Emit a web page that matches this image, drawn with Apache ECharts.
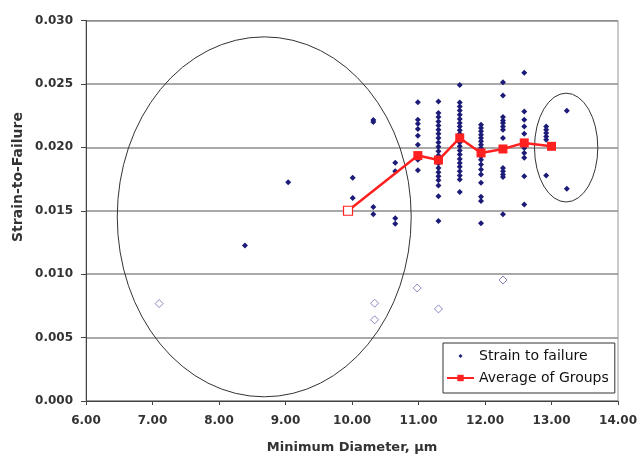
<!DOCTYPE html>
<html>
<head>
<meta charset="utf-8">
<script src="https://cdn.jsdelivr.net/npm/echarts@6/dist/echarts.min.js"></script>
<style>
  html, body { margin: 0; padding: 0; background: #fff; }
  #chart { width: 640px; height: 459px; }
</style>
</head>
<body>
<div id="chart"></div>
<script>
// measured specimens, grouped by diameter column
const columnDiameters = [8.39, 9.04, 10.01, 10.32, 10.65, 10.99, 11.30, 11.62, 11.94, 12.27, 12.59, 12.92, 13.23];
const columnStrains = [
  [0.01226],
  [0.01725],
  [0.0176, 0.0160],
  [0.02215, 0.02200, 0.01529, 0.01472],
  [0.01878, 0.01812, 0.0144, 0.01397],
  [0.02356, 0.02217, 0.02186, 0.02144, 0.02092, 0.02021, 0.01937, 0.01903, 0.0182],
  [0.02361, 0.0227, 0.02239, 0.02204, 0.02173, 0.02139, 0.02108, 0.02074, 0.02039, 0.02004, 0.01969,
   0.01935, 0.01903, 0.01872, 0.01838, 0.01804, 0.01772, 0.01741, 0.01699, 0.01615, 0.01419],
  [0.02492, 0.02353, 0.02322, 0.0229, 0.02257, 0.02223, 0.02192, 0.02165, 0.02134, 0.02107, 0.02074,
   0.02039, 0.02008, 0.01976, 0.01943, 0.01909, 0.01877, 0.01846, 0.01811, 0.01777, 0.01747, 0.01647],
  [0.02178, 0.02152, 0.02126, 0.021, 0.02074, 0.02047, 0.02021, 0.01995, 0.01969, 0.01929, 0.01903,
   0.01864, 0.01825, 0.01786, 0.01721, 0.01611, 0.01576, 0.01401],
  [0.02513, 0.02408, 0.02239, 0.02212, 0.02192, 0.02165, 0.02139, 0.02074, 0.01987, 0.01838, 0.01812,
   0.01786, 0.01766, 0.01472],
  [0.02589, 0.02283, 0.02217, 0.02165, 0.02108, 0.02039, 0.01995, 0.01956, 0.01917, 0.01772, 0.0155],
  [0.02165, 0.02139, 0.02113, 0.02086, 0.0206, 0.01778],
  [0.02288, 0.01673]
];

// low outliers (open diamonds)
const outlierDiameter = [7.10, 10.34, 10.34, 10.98, 11.30, 12.27];
const outlierStrain = [0.00768, 0.00771, 0.0064, 0.00891, 0.00726, 0.00954];

// group averages
const avgDiameter = [9.94, 10.99, 11.30, 11.62, 11.94, 12.27, 12.59, 13.00];
const avgStrain = [0.0150, 0.01935, 0.0190, 0.02074, 0.01956, 0.01987, 0.02035, 0.02008];

// hand-drawn ellipses: centre and radii in data units
const ellipseCenter = [[8.68, 0.01452], [13.22, 0.01998]];
const ellipseRadius = [[2.21, 0.01419], [0.476, 0.00429]];

const xTicks = [6, 7, 8, 9, 10, 11, 12, 13, 14];

const scatterData = [];
columnDiameters.forEach((d, i) => {
  columnStrains[i].forEach((s) => scatterData.push([d, s]));
});
const outlierData = outlierDiameter.map((d, i) => [d, outlierStrain[i]]);
const avgData = avgDiameter.map((d, i) => {
  if (i === 0) {
    return {
      value: [d, avgStrain[i]],
      itemStyle: { color: '#fff', borderColor: '#ff2020', borderWidth: 1.2 }
    };
  }
  return [d, avgStrain[i]];
});
const ellipseData = ellipseCenter.map((c, i) => [c[0], c[1], ellipseRadius[i][0], ellipseRadius[i][1]]);

const labelFont = {
  fontFamily: 'DejaVu Sans',
  fontWeight: 'bold',
  fontSize: 12,
  color: '#333'
};

// small diamond in the middle of a 27x8 box (the moves stretch the bounds)
const smallDiamond = 'path://M0,0 M27,8 M13.5,2 L15.5,4 L13.5,6 L11.5,4 Z';

const chart = echarts.init(document.getElementById('chart'), null, { renderer: 'canvas' });

const option = {
  animation: false,
  backgroundColor: '#fff',
  grid: {
    left: 86,
    right: 21,
    top: 20.5,
    bottom: 56.5,
    show: true,
    borderColor: '#999',
    borderWidth: 1
  },
  xAxis: {
    type: 'value',
    min: xTicks[0],
    max: xTicks[xTicks.length - 1],
    interval: 1,
    name: 'Minimum Diameter, µm',
    nameLocation: 'middle',
    nameGap: 40,
    nameTextStyle: {
      fontFamily: 'DejaVu Sans',
      fontWeight: 'bold',
      fontSize: 13,
      color: '#333'
    },
    axisLine: { lineStyle: { color: '#444', width: 1 } },
    axisTick: { show: true, length: 4, lineStyle: { color: '#444' } },
    axisLabel: Object.assign({ margin: 14, formatter: (v) => v.toFixed(2) }, labelFont),
    splitLine: { show: false }
  },
  yAxis: {
    type: 'value',
    min: 0,
    max: 0.03,
    interval: 0.005,
    axisLine: { show: true, lineStyle: { color: '#444', width: 1 } },
    axisTick: { show: true, length: 5, lineStyle: { color: '#444' } },
    axisLabel: Object.assign({ margin: 13, formatter: (v) => v.toFixed(3) }, labelFont),
    splitLine: { show: true, lineStyle: { color: '#8c8c8c', width: 1.5 } }
  },
  graphic: [{
    type: 'text',
    x: 18,
    y: 177,
    rotation: Math.PI / 2,
    style: {
      text: 'Strain-to-Failure',
      fontFamily: 'DejaVu Sans',
      fontWeight: 'bold',
      fontSize: 14,
      fill: '#333',
      align: 'center',
      verticalAlign: 'middle'
    }
  }],
  legend: {
    orient: 'vertical',
    left: 443,
    top: 343,
    padding: [6, 6, 8, 3],
    itemGap: 8,
    itemWidth: 27,
    itemHeight: 8,
    backgroundColor: '#fff',
    borderColor: '#333',
    borderWidth: 1,
    data: [
      { name: 'Strain to failure', icon: smallDiamond },
      { name: 'Average of Groups' }
    ],
    textStyle: { fontFamily: 'DejaVu Sans', fontSize: 14, color: '#111' }
  },
  series: [
    {
      type: 'custom',
      name: 'ellipses',
      silent: true,
      z: 1,
      data: ellipseData,
      encode: { x: 0, y: 1 },
      renderItem: (params, api) => {
        const c = api.coord([api.value(0), api.value(1)]);
        const s = api.size([api.value(2), api.value(3)]);
        const rx = s[0], ry = s[1];
        const p = 'M ' + (c[0] - rx) + ' ' + c[1] +
          ' A ' + rx + ' ' + ry + ' 0 1 0 ' + (c[0] + rx) + ' ' + c[1] +
          ' A ' + rx + ' ' + ry + ' 0 1 0 ' + (c[0] - rx) + ' ' + c[1] + ' Z';
        return {
          type: 'path',
          shape: { pathData: p },
          style: { fill: 'none', stroke: '#333', lineWidth: 1 }
        };
      }
    },
    {
      type: 'scatter',
      name: 'Strain to failure',
      symbol: 'diamond',
      symbolSize: 6,
      z: 3,
      itemStyle: { color: '#1c1c78', opacity: 1 },
      data: scatterData
    },
    {
      type: 'scatter',
      name: 'outliers',
      symbol: 'diamond',
      symbolSize: 8,
      z: 3,
      itemStyle: { color: '#fff', borderColor: '#6c6cb4', borderWidth: 1 },
      data: outlierData
    },
    {
      type: 'line',
      name: 'Average of Groups',
      symbol: 'rect',
      symbolSize: 9,
      showAllSymbol: true,
      z: 4,
      lineStyle: { color: '#ff2020', width: 2.5 },
      itemStyle: { color: '#ff2020' },
      data: avgData
    }
  ]
};

chart.setOption(option);
</script>
</body>
</html>
